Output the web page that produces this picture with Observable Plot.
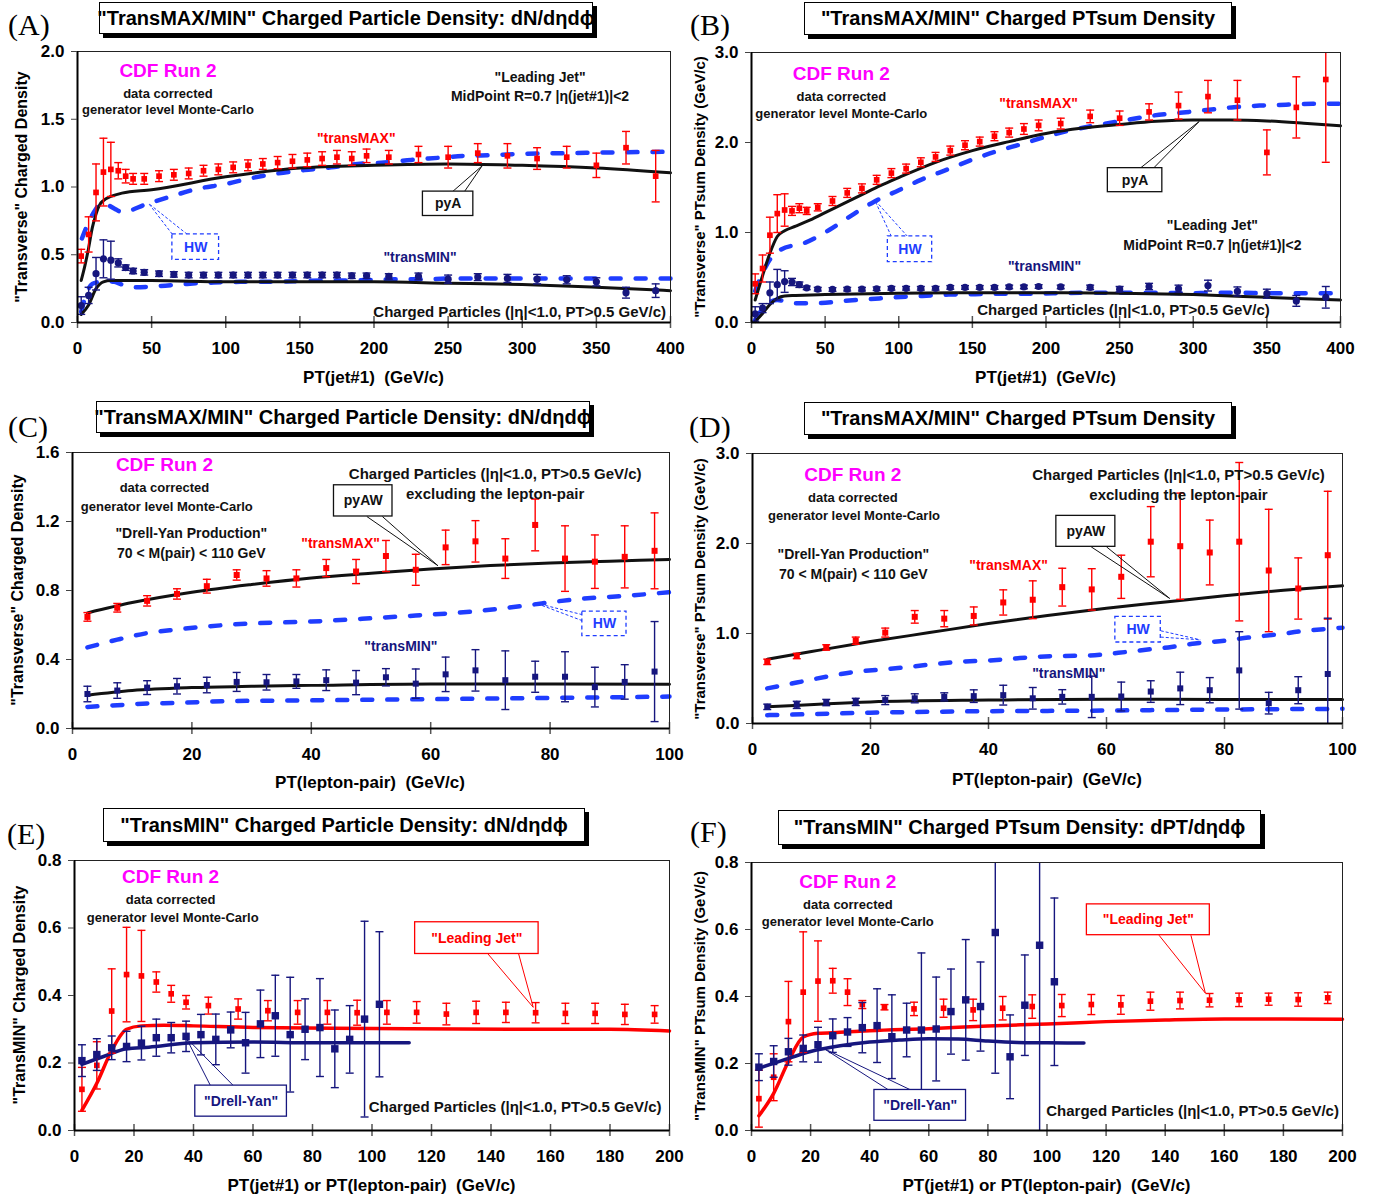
<!DOCTYPE html>
<html><head><meta charset="utf-8">
<script src="https://cdn.jsdelivr.net/npm/d3@7"></script>
<script src="https://cdn.jsdelivr.net/npm/@observablehq/plot@0.6"></script>
<style>
html,body{margin:0;padding:0;background:#fff;}
#root{position:relative;width:1385px;height:1197px;background:#fff;overflow:hidden;font-family:"Liberation Sans",Arial,sans-serif;}
#root svg{position:absolute;}
</style></head>
<body><div id="root"></div>
<script>
// ---------- DATA ----------
const jetBins = [2.5,7.5,12.5,17.5,22.5,27.5,32.5,37.5,45,55,65,75,85,95,105,115,125,135,145,155,165,175,185,195,210,230,250,270,290,310,330,350,370,390];
const ljBins = [2.5,7.5,12.5,17.5,22.5,27.5,32.5,37.5,45,55,65,75,85,95,105,115,125,135,145,155,165,175,185,195];
const dyBins = [2.5,7.5,12.5,17.5,22.5,27.5,32.5,37.5,42.5,47.5,52.5,57.5,62.5,67.5,72.5,77.5,82.5,87.5,92.5,97.5];
const dyBinsExt = [2.5,7.5,12.5,17.5,22.5,27.5,32.5,37.5,42.5,47.5,52.5,57.5,62.5,67.5,72.5,77.5,82.5,87.5,92.5,97.5,102.5];

// Panel A
const aMax = [0.49,0.65,0.96,1.11,1.13,1.12,1.08,1.06,1.06,1.08,1.09,1.10,1.12,1.13,1.145,1.16,1.17,1.18,1.19,1.20,1.21,1.22,1.21,1.23,1.22,1.24,1.22,1.25,1.23,1.21,1.22,1.16,1.29,1.08];
const aMaxErr = [0.05,0.13,0.21,0.25,0.2,0.06,0.05,0.04,0.04,0.04,0.04,0.04,0.04,0.04,0.04,0.04,0.04,0.045,0.05,0.05,0.05,0.05,0.05,0.05,0.05,0.06,0.08,0.07,0.09,0.08,0.08,0.09,0.12,0.19];
const aMin = [0.125,0.20,0.36,0.47,0.46,0.44,0.405,0.38,0.37,0.36,0.355,0.35,0.35,0.35,0.35,0.35,0.35,0.35,0.35,0.35,0.35,0.35,0.345,0.345,0.34,0.34,0.32,0.335,0.325,0.32,0.315,0.30,0.22,0.235];
const aMinErr = [0.065,0.06,0.12,0.14,0.14,0.03,0.02,0.02,0.02,0.02,0.02,0.02,0.02,0.02,0.02,0.02,0.02,0.02,0.02,0.02,0.02,0.02,0.02,0.02,0.02,0.025,0.03,0.025,0.03,0.035,0.03,0.03,0.04,0.05];
const aPyMaxX = [2.5,5,7.5,10,12.5,15,17.5,22.5,30,50,100,150,200,250,300,350,400];
const aPyMaxY = [0.31,0.42,0.55,0.70,0.80,0.87,0.90,0.93,0.955,0.98,1.075,1.14,1.16,1.17,1.16,1.14,1.105];
const aPyMinX = [2.5,7.5,12.5,17.5,22.5,30,50,100,150,200,250,300,350,400];
const aPyMinY = [0.06,0.13,0.25,0.30,0.31,0.31,0.31,0.30,0.30,0.30,0.29,0.28,0.26,0.235];
const aHwMaxX = [3,7.5,12,16,20,25,30,47,63,81,99,117,135,153,171,189,207,225,243,261,280,300,330,360,400];
const aHwMaxY = [0.62,0.74,0.83,0.88,0.87,0.84,0.815,0.876,0.93,0.987,1.02,1.065,1.10,1.125,1.145,1.17,1.18,1.20,1.215,1.23,1.235,1.245,1.25,1.255,1.26];
const aHwMinX = [2.5,5,7.5,10,15,20,25,30,38,56,74,92,110,128,146,164,182,200,218,236,254,272,290,310,330,360,400];
const aHwMinY = [0.08,0.18,0.25,0.285,0.30,0.305,0.30,0.28,0.26,0.27,0.285,0.295,0.30,0.30,0.305,0.31,0.31,0.315,0.32,0.32,0.325,0.325,0.325,0.325,0.325,0.325,0.325];

// Panel B
const bMax = [0.43,0.60,0.97,1.21,1.25,1.24,1.27,1.24,1.28,1.35,1.44,1.49,1.585,1.66,1.71,1.78,1.84,1.91,1.97,2.01,2.07,2.11,2.15,2.19,2.21,2.29,2.27,2.34,2.41,2.51,2.47,1.89,2.39,2.70];
const bMaxErr = [0.11,0.15,0.2,0.21,0.18,0.05,0.05,0.04,0.04,0.05,0.05,0.05,0.05,0.05,0.05,0.05,0.05,0.05,0.05,0.05,0.05,0.05,0.06,0.06,0.06,0.07,0.08,0.09,0.15,0.18,0.22,0.25,0.34,0.92];
const bMin = [0.095,0.16,0.33,0.42,0.455,0.45,0.42,0.385,0.37,0.367,0.37,0.37,0.375,0.38,0.38,0.38,0.38,0.39,0.39,0.39,0.39,0.395,0.395,0.40,0.395,0.39,0.37,0.40,0.375,0.41,0.345,0.32,0.24,0.28];
const bMinErr = [0.08,0.05,0.12,0.17,0.12,0.04,0.03,0.02,0.02,0.02,0.02,0.02,0.02,0.02,0.02,0.02,0.02,0.02,0.02,0.02,0.02,0.02,0.02,0.02,0.02,0.025,0.03,0.035,0.04,0.06,0.05,0.05,0.06,0.12];
const bPyMaxX = [2.5,7.5,12.5,17.5,22.5,30,40,50,62.5,75,87.5,100,125,150,175,200,225,250,275,300,325,350,375,400];
const bPyMaxY = [0.25,0.52,0.77,0.955,1.02,1.07,1.14,1.22,1.32,1.42,1.52,1.61,1.78,1.91,2.01,2.10,2.16,2.20,2.235,2.25,2.25,2.24,2.215,2.185];
const bPyMinX = [2.5,7.5,12.5,17.5,22.5,30,50,100,150,200,250,300,350,400];
const bPyMinY = [0.01,0.1,0.2,0.27,0.295,0.30,0.31,0.325,0.33,0.33,0.325,0.31,0.28,0.25];
const bHwMaxX = [2.5,7.5,12.5,20,37,53,67,83,100,115,133,150,166,184,201,218,235,253,273,291,309,326,345,363,381,400];
const bHwMaxY = [0.35,0.55,0.70,0.81,0.89,1.03,1.18,1.34,1.47,1.585,1.70,1.81,1.90,1.985,2.07,2.14,2.195,2.245,2.30,2.33,2.36,2.39,2.41,2.42,2.43,2.43];
const bHwMinX = [2.5,7.5,11,17.5,28,44.5,62.5,80.6,98,116,134,152,169,187,205,223,241,260,278,296,314,332,350,368,386,400];
const bHwMinY = [0.03,0.15,0.21,0.25,0.215,0.215,0.24,0.26,0.28,0.295,0.31,0.315,0.32,0.32,0.325,0.33,0.33,0.33,0.33,0.325,0.33,0.33,0.325,0.325,0.325,0.325];

// Panel C
const cMax = [0.647,0.70,0.74,0.78,0.825,0.89,0.87,0.87,0.93,0.91,1.00,0.92,1.05,1.085,0.985,1.18,0.985,0.967,0.995,1.03];
const cMaxErr = [0.025,0.025,0.03,0.03,0.04,0.03,0.045,0.05,0.05,0.07,0.09,0.09,0.1,0.12,0.115,0.15,0.19,0.155,0.18,0.22];
const cMin = [0.20,0.22,0.237,0.245,0.252,0.27,0.268,0.273,0.28,0.266,0.297,0.26,0.314,0.337,0.28,0.30,0.30,0.24,0.27,0.33];
const cMinErr = [0.045,0.045,0.04,0.045,0.045,0.055,0.045,0.04,0.06,0.07,0.05,0.085,0.1,0.12,0.17,0.09,0.145,0.115,0.1,0.29];
const cPyMaxX = [2.5,10,20,30,40,50,60,70,80,90,100];
const cPyMaxY = [0.67,0.73,0.79,0.835,0.873,0.90,0.925,0.945,0.96,0.97,0.98];
const cPyMinX = [2.5,10,20,30,40,60,80,100];
const cPyMinY = [0.193,0.22,0.237,0.245,0.25,0.258,0.258,0.256];
const cHwMaxX = [2.5,7.5,12.5,17.5,23,30,40,48.5,57.5,67,75,84,93,100];
const cHwMaxY = [0.47,0.515,0.553,0.574,0.593,0.609,0.62,0.636,0.655,0.678,0.709,0.748,0.77,0.79];
const cHwMinX = [2.5,7.5,12.5,17.5,25,40,60,80,100];
const cHwMinY = [0.125,0.135,0.145,0.148,0.158,0.163,0.17,0.177,0.185];

// Panel D
const dMax = [0.685,0.75,0.845,0.92,1.01,1.185,1.165,1.195,1.345,1.375,1.515,1.49,1.63,2.02,1.97,1.90,2.02,1.70,1.50,1.87];
const dMaxErr = [0.03,0.03,0.03,0.04,0.05,0.07,0.09,0.1,0.14,0.21,0.21,0.23,0.24,0.39,0.59,0.36,0.88,0.68,0.34,0.71];
const dMin = [0.185,0.207,0.233,0.24,0.26,0.28,0.296,0.304,0.315,0.28,0.296,0.296,0.30,0.355,0.39,0.37,0.59,0.226,0.37,0.55];
const dMinErr = [0.03,0.04,0.035,0.04,0.05,0.05,0.045,0.07,0.11,0.12,0.08,0.23,0.16,0.12,0.18,0.14,0.43,0.12,0.15,0.62];
const dPyMaxX = [2.5,10,20,30,40,50,60,70,80,90,100];
const dPyMaxY = [0.715,0.80,0.91,1.01,1.11,1.20,1.28,1.35,1.42,1.48,1.53];
const dPyMinX = [2.5,20,40,60,80,100];
const dPyMinY = [0.185,0.24,0.26,0.27,0.267,0.267];
const dHwMaxX = [2.5,7.5,12.5,17.5,22,26,30,35,40,44,48,52,57,62,66,71,75,80,84,89,93,98,100];
const dHwMaxY = [0.39,0.455,0.52,0.575,0.60,0.625,0.655,0.685,0.70,0.72,0.74,0.75,0.755,0.785,0.815,0.85,0.89,0.92,0.955,0.99,1.025,1.055,1.065];
const dHwMinX = [2.5,10,20,30,40,50,60,70,80,90,100];
const dHwMinY = [0.093,0.104,0.12,0.13,0.137,0.14,0.144,0.15,0.155,0.16,0.163];

// Panel E
const eLJ = [0.122,0.193,0.354,0.462,0.458,0.44,0.405,0.38,0.37,0.36,0.355,0.35,0.35,0.349,0.35,0.35,0.345,0.35,0.35,0.349,0.347,0.347,0.344,0.344];
const eLJErr = [0.065,0.07,0.125,0.14,0.135,0.03,0.025,0.02,0.025,0.03,0.03,0.035,0.035,0.037,0.035,0.032,0.032,0.033,0.03,0.03,0.03,0.03,0.03,0.026];
const eDY = [0.207,0.225,0.245,0.249,0.259,0.275,0.275,0.279,0.284,0.27,0.298,0.26,0.316,0.34,0.284,0.30,0.305,0.242,0.27,0.33,0.374];
const eDYErr = [0.047,0.047,0.035,0.045,0.05,0.055,0.045,0.045,0.06,0.075,0.053,0.09,0.1,0.12,0.17,0.09,0.145,0.115,0.1,0.29,0.215];
const eLJLineX = [2.5,7.5,12.5,17.5,22.5,30,40,60,100,150,180,200];
const eLJLineY = [0.06,0.14,0.237,0.30,0.31,0.312,0.31,0.305,0.302,0.30,0.30,0.295];
const eDYLineX = [2.5,10,17.5,25,40,60,80,100,112.5];
const eDYLineY = [0.196,0.22,0.242,0.247,0.26,0.262,0.26,0.26,0.26];

// Panel F
const fLJ = [0.095,0.159,0.325,0.413,0.446,0.447,0.413,0.376,0.368,0.363,0.365,0.36,0.365,0.37,0.373,0.376,0.375,0.386,0.388,0.389,0.39,0.392,0.391,0.396];
const fLJErr = [0.085,0.07,0.12,0.18,0.12,0.037,0.04,0.012,0.008,0.02,0.027,0.032,0.035,0.035,0.033,0.03,0.028,0.027,0.025,0.02,0.02,0.018,0.02,0.017];
const fDY = [0.189,0.206,0.235,0.245,0.256,0.283,0.294,0.307,0.313,0.28,0.30,0.30,0.303,0.355,0.39,0.37,0.591,0.22,0.374,0.553,0.444];
const fDYErr = [0.04,0.047,0.04,0.04,0.052,0.05,0.043,0.075,0.11,0.125,0.08,0.23,0.155,0.127,0.18,0.133,0.42,0.125,0.15,0.6,0.25];
const fLJLineX = [2.5,7.5,12.5,17.5,22.5,30,40,60,80,100,120,140,160,180,200];
const fLJLineY = [0.044,0.111,0.206,0.279,0.29,0.293,0.298,0.304,0.312,0.318,0.325,0.33,0.333,0.333,0.332];
const fDYLineX = [2.5,10,20,30,40,50,60,70,80,90,100,112.5];
const fDYLineY = [0.186,0.208,0.236,0.253,0.264,0.27,0.274,0.273,0.267,0.263,0.262,0.261];

// Tick values
const xTicksJet = [0,50,100,150,200,250,300,350,400];
const xTicksDY = [0,20,40,60,80,100];
const xTicksE = [0,20,40,60,80,100,120,140,160,180,200];
const yTicksA = [0,0.5,1.0,1.5,2.0];
const yTicksB = [0,1,2,3];
const yTicksC = [0,0.4,0.8,1.2,1.6];
const yTicksE = [0,0.2,0.4,0.6,0.8];

// Text
const titles = ['"TransMAX/MIN" Charged Particle Density: dN/dηdϕ','"TransMAX/MIN" Charged PTsum Density','"TransMAX/MIN" Charged Particle Density: dN/dηdϕ','"TransMAX/MIN" Charged PTsum Density','"TransMIN" Charged Particle Density: dN/dηdϕ','"TransMIN" Charged PTsum Density: dPT/dηdϕ'];
const letters = ["(A)","(B)","(C)","(D)","(E)","(F)"];
const xTitles = ["PT(jet#1)  (GeV/c)","PT(jet#1)  (GeV/c)","PT(lepton-pair)  (GeV/c)","PT(lepton-pair)  (GeV/c)","PT(jet#1) or PT(lepton-pair)  (GeV/c)","PT(jet#1) or PT(lepton-pair)  (GeV/c)"];
const yTitles = ['"Transverse" Charged Density','"Transverse" PTsum Density (GeV/c)','"Transverse" Charged Density','"Transverse" PTsum Density (GeV/c)','"TransMIN" Charged Density','"TransMIN" PTsum Density (GeV/c)'];
const charged = "Charged Particles (|η|<1.0, PT>0.5 GeV/c)";

const RED = "#ff0000", NAVY = "#16167e", BLUE = "#1f3dff", MAG = "#ff00ff", INK = "#111";

// Annotations (data space)
const annA = [
  {t:"CDF Run 2",x:61,y:1.86,c:MAG,s:19},{t:"data corrected",x:61,y:1.69,s:13},{t:"generator level Monte-Carlo",x:61,y:1.57,s:13},
  {t:'"Leading Jet"',x:312,y:1.81,s:14},{t:"MidPoint R=0.7 |η(jet#1)|<2",x:312,y:1.665,s:14},
  {t:'"transMAX"',x:188,y:1.36,c:RED,s:14},{t:'"transMIN"',x:231,y:0.48,c:NAVY,s:14},{t:charged,x:397,y:0.074,s:15,a:"end"}];
const boxA = [{t:"pyA",x1:233,x2:267,y1:0.786,y2:0.966,c:INK},{t:"HW",x1:64,x2:95.5,y1:0.462,y2:0.651,c:BLUE,d:true}];
const leadA = [{x1:253,y1:0.966,x2:273,y2:1.157,c:INK},{x1:261,y1:0.966,x2:273,y2:1.157,c:INK},{x1:64,y1:0.651,x2:48,y2:0.878,c:BLUE,d:true},{x1:74,y1:0.651,x2:48,y2:0.878,c:BLUE,d:true}];

const annB = [
  {t:"CDF Run 2",x:61,y:2.76,c:MAG,s:19},{t:"data corrected",x:61,y:2.51,s:13},{t:"generator level Monte-Carlo",x:61,y:2.32,s:13},
  {t:'"transMAX"',x:195,y:2.43,c:RED,s:14},{t:'"Leading Jet"',x:313,y:1.078,s:14},{t:"MidPoint R=0.7 |η(jet#1)|<2",x:313,y:0.856,s:14},
  {t:'"transMIN"',x:199,y:0.62,c:NAVY,s:14},{t:charged,x:352,y:0.14,s:15,a:"end"}];
const boxB = [{t:"pyA",x1:242,x2:279,y1:1.448,y2:1.715,c:INK},{t:"HW",x1:92.6,x2:122.7,y1:0.67,y2:0.956,c:BLUE,d:true}];
const leadB = [{x1:264,y1:1.715,x2:304,y2:2.233,c:INK},{x1:273,y1:1.715,x2:304,y2:2.233,c:INK},{x1:95,y1:0.956,x2:83.6,y2:1.363,c:BLUE,d:true},{x1:106,y1:0.956,x2:83.6,y2:1.363,c:BLUE,d:true}];

const annC = [
  {t:"CDF Run 2",x:15.4,y:1.526,c:MAG,s:19},{t:"data corrected",x:15.4,y:1.393,s:13},{t:"generator level Monte-Carlo",x:15.8,y:1.287,s:13},
  {t:'"Drell-Yan Production"',x:19.9,y:1.131,s:14},{t:"70 < M(pair) < 110 GeV",x:19.9,y:1.015,s:14},
  {t:'"transMAX"',x:44.9,y:1.073,c:RED,s:14},{t:'"transMIN"',x:55,y:0.478,c:NAVY,s:14},
  {t:charged,x:70.8,y:1.476,s:15},{t:"excluding the lepton-pair",x:70.8,y:1.36,s:15}];
const boxC = [{t:"pyAW",x1:43.8,x2:53.6,y1:1.229,y2:1.41,c:INK},{t:"HW",x1:85.4,x2:92.8,y1:0.536,y2:0.678,c:BLUE,d:true}];
const leadC = [{x1:49.3,y1:1.229,x2:61.2,y2:0.944,c:INK},{x1:51.9,y1:1.229,x2:61.2,y2:0.944,c:INK},{x1:85.4,y1:0.66,x2:77.5,y2:0.728,c:BLUE,d:true},{x1:85.4,y1:0.625,x2:77.5,y2:0.728,c:BLUE,d:true}];

const annD = [
  {t:"CDF Run 2",x:17,y:2.767,c:MAG,s:19},{t:"data corrected",x:17,y:2.51,s:13},{t:"generator level Monte-Carlo",x:17.2,y:2.307,s:13},
  {t:'"Drell-Yan Production"',x:17.1,y:1.88,s:14},{t:"70 < M(pair) < 110 GeV",x:17.1,y:1.66,s:14},
  {t:'"transMAX"',x:43.4,y:1.76,c:RED,s:14},{t:'"transMIN"',x:53.6,y:0.55,c:NAVY,s:14},
  {t:charged,x:72.2,y:2.76,s:15},{t:"excluding the lepton-pair",x:72.2,y:2.54,s:15}];
const boxD = [{t:"pyAW",x1:51.5,x2:61.5,y1:1.963,y2:2.307,c:INK},{t:"HW",x1:61.5,x2:69.2,y1:0.9,y2:1.185,c:BLUE,d:true}];
const leadD = [{x1:57.4,y1:1.963,x2:70.7,y2:1.39,c:INK},{x1:60,y1:1.963,x2:70.7,y2:1.39,c:INK},{x1:69.2,y1:1.03,x2:75.9,y2:0.93,c:BLUE,d:true},{x1:69.2,y1:0.96,x2:75.9,y2:0.93,c:BLUE,d:true}];

const annE = [
  {t:"CDF Run 2",x:32.3,y:0.75,c:MAG,s:19},{t:"data corrected",x:32.3,y:0.683,s:13},{t:"generator level Monte-Carlo",x:33,y:0.63,s:13},
  {t:charged,x:197.3,y:0.069,s:15,a:"end"}];
const boxE = [{t:'"Leading Jet"',x1:114.5,x2:156,y1:0.523,y2:0.617,c:RED},{t:'"Drell-Yan"',x1:40.6,x2:71.4,y1:0.041,y2:0.133,c:NAVY}];
const leadE = [{x1:139,y1:0.523,x2:154.2,y2:0.365,c:RED},{x1:149.3,y1:0.523,x2:154.2,y2:0.365,c:RED},{x1:45.7,y1:0.133,x2:37.5,y2:0.275,c:NAVY},{x1:53.4,y1:0.133,x2:37.5,y2:0.275,c:NAVY}];

const annF = [
  {t:"CDF Run 2",x:32.6,y:0.743,c:MAG,s:19},{t:"data corrected",x:32.6,y:0.675,s:13},{t:"generator level Monte-Carlo",x:32.6,y:0.623,s:13},
  {t:charged,x:198.8,y:0.057,s:15,a:"end"}];
const boxF = [{t:'"Leading Jet"',x1:113.5,x2:155.1,y1:0.583,y2:0.675,c:RED},{t:'"Drell-Yan"',x1:41.6,x2:72.6,y1:0.029,y2:0.121,c:NAVY}];
const leadF = [{x1:137.9,y1:0.583,x2:153.6,y2:0.41,c:RED},{x1:148.7,y1:0.583,x2:153.6,y2:0.41,c:RED},{x1:46.4,y1:0.121,x2:24.4,y2:0.245,c:NAVY},{x1:53.9,y1:0.121,x2:24.4,y2:0.245,c:NAVY}];

// ---------- DRAWING ----------
const root = document.getElementById("root");
const FONT = "'Liberation Sans', Arial, Helvetica, sans-serif";
const zip = (xs, ys) => xs.map((x, i) => ({x, y: ys[i]}));
const cap = {draw(ctx, size) { const r = Math.sqrt(size / Math.PI); ctx.moveTo(-r, 0); ctx.lineTo(r, 0); }};

function series(xs, vs, es, color, symbol, r, sw) {
  const data = xs.map((x, i) => ({x, y: vs[i], lo: vs[i] - es[i], hi: vs[i] + es[i]}));
  return [
    Plot.ruleX(data, {x: "x", y1: "lo", y2: "hi", stroke: color, strokeWidth: sw, clip: true}),
    Plot.dot(data, {x: "x", y: "lo", symbol: cap, r: 4, stroke: color, strokeWidth: sw, clip: true}),
    Plot.dot(data, {x: "x", y: "hi", symbol: cap, r: 4, stroke: color, strokeWidth: sw, clip: true}),
    Plot.dot(data, {x: "x", y: "y", symbol, r, fill: color, stroke: "none"})
  ];
}

function panel(p) {
  const [x0, y0, x1, y1] = p.svg, [l, t, r, b] = p.frame;
  const fh = b - t;
  const marks = [];
  marks.push(Plot.ruleX(p.xTicks, {x: d => d, stroke: "#555", strokeWidth: 1.5, insetTop: fh - 6, insetBottom: -6}));
  for (const s of p.dashed) marks.push(Plot.line(zip(s[0], s[1]), {x: "x", y: "y", stroke: BLUE, strokeWidth: 4.5, strokeDasharray: "10,15", curve: "monotone-x"}));
  for (const s of p.solid) marks.push(Plot.line(zip(s[0], s[1]), {x: "x", y: "y", stroke: s[2], strokeWidth: s[3], curve: "monotone-x"}));
  for (const s of p.series) marks.push(...series(...s));
  marks.push(Plot.frame({stroke: "#222", strokeWidth: 1}));
  marks.push(Plot.ruleX([0], {stroke: "#000", strokeWidth: 2}));
  marks.push(Plot.ruleY([0], {stroke: "#000", strokeWidth: 2}));
  marks.push(Plot.axisX({ticks: p.xTicks, tickSize: 0, tickPadding: 19, label: null, fontSize: 17, fontWeight: "bold", tickFormat: d3.format("d")}));
  marks.push(Plot.axisY({ticks: p.yTicks, tickSize: 6, tickPadding: 7, label: null, fontSize: 17, fontWeight: "bold", tickFormat: d3.format(".1f"), stroke: "#444"}));
  for (const ld of p.lead) marks.push(Plot.link([ld], {x1: "x1", y1: "y1", x2: "x2", y2: "y2", stroke: ld.c, strokeWidth: 1, strokeDasharray: ld.d ? "3,2" : null}));
  for (const bx of p.box) {
    marks.push(Plot.rect([bx], {x1: "x1", x2: "x2", y1: "y1", y2: "y2", fill: "white", stroke: bx.c, strokeWidth: 1.3, strokeDasharray: bx.d ? "4,3" : null}));
    marks.push(Plot.text([bx], {x: d => (d.x1 + d.x2) / 2, y: d => (d.y1 + d.y2) / 2, text: "t", fill: bx.c, fontSize: 14, fontWeight: "bold"}));
  }
  for (const a of p.ann) marks.push(Plot.text([a], {x: "x", y: "y", text: "t", fill: a.c || INK, fontSize: a.s, fontWeight: "bold", textAnchor: a.a || "middle"}));
  const svg = Plot.plot({
    width: x1 - x0, height: y1 - y0,
    marginLeft: l - x0, marginRight: x1 - r, marginTop: t - y0, marginBottom: y1 - b,
    x: {domain: p.xDomain}, y: {domain: p.yDomain},
    style: {fontFamily: FONT, fontSize: "17px", fontWeight: "bold", background: "transparent", overflow: "visible", color: "#000"},
    marks
  });
  svg.style.left = x0 + "px"; svg.style.top = y0 + "px";
  root.appendChild(svg);
}

function div(text, style) {
  const d = document.createElement("div");
  d.textContent = text;
  Object.assign(d.style, {position: "absolute", whiteSpace: "pre", fontFamily: FONT}, style);
  root.appendChild(d);
}

const panels = [
  {svg: [0, 40, 690, 395], frame: [77, 51, 670, 322], xDomain: [0, 400], yDomain: [0, 2], xTicks: xTicksJet, yTicks: yTicksA,
   dashed: [[aHwMaxX, aHwMaxY], [aHwMinX, aHwMinY]], solid: [[aPyMaxX, aPyMaxY, INK, 3], [aPyMinX, aPyMinY, INK, 3]],
   series: [[jetBins, aMax, aMaxErr, RED, "square", 3.2, 1.4], [jetBins, aMin, aMinErr, NAVY, "circle", 3.6, 1.4]],
   ann: annA, box: boxA, lead: leadA},
  {svg: [690, 40, 1385, 395], frame: [751, 52, 1340, 322], xDomain: [0, 400], yDomain: [0, 3], xTicks: xTicksJet, yTicks: yTicksB,
   dashed: [[bHwMaxX, bHwMaxY], [bHwMinX, bHwMinY]], solid: [[bPyMaxX, bPyMaxY, INK, 3], [bPyMinX, bPyMinY, INK, 3]],
   series: [[jetBins, bMax, bMaxErr, RED, "square", 3.2, 1.4], [jetBins, bMin, bMinErr, NAVY, "circle", 3.6, 1.4]],
   ann: annB, box: boxB, lead: leadB},
  {svg: [0, 440, 690, 800], frame: [72, 452, 669, 728], xDomain: [0, 100], yDomain: [0, 1.6], xTicks: xTicksDY, yTicks: yTicksC,
   dashed: [[cHwMaxX, cHwMaxY], [cHwMinX, cHwMinY]], solid: [[cPyMaxX, cPyMaxY, INK, 3], [cPyMinX, cPyMinY, INK, 3]],
   series: [[dyBins, cMax, cMaxErr, RED, "square", 3.4, 1.4], [dyBins, cMin, cMinErr, NAVY, "square", 3.4, 1.4]],
   ann: annC, box: boxC, lead: leadC},
  {svg: [690, 440, 1385, 800], frame: [752, 453, 1342, 723], xDomain: [0, 100], yDomain: [0, 3], xTicks: xTicksDY, yTicks: yTicksB,
   dashed: [[dHwMaxX, dHwMaxY], [dHwMinX, dHwMinY]], solid: [[dPyMaxX, dPyMaxY, INK, 3], [dPyMinX, dPyMinY, INK, 3]],
   series: [[dyBins, dMax, dMaxErr, RED, "square", 3.4, 1.4], [dyBins, dMin, dMinErr, NAVY, "square", 3.4, 1.4]],
   ann: annD, box: boxD, lead: leadD},
  {svg: [0, 850, 690, 1197], frame: [74, 860, 669, 1130], xDomain: [0, 200], yDomain: [0, 0.8], xTicks: xTicksE, yTicks: yTicksE,
   dashed: [], solid: [[eLJLineX, eLJLineY, RED, 3.5], [eDYLineX, eDYLineY, NAVY, 3.5]],
   series: [[ljBins, eLJ, eLJErr, RED, "square", 3.2, 1.4], [dyBinsExt, eDY, eDYErr, NAVY, "square", 4.2, 1.4]],
   ann: annE, box: boxE, lead: leadE},
  {svg: [690, 850, 1385, 1197], frame: [751, 862, 1342, 1130], xDomain: [0, 200], yDomain: [0, 0.8], xTicks: xTicksE, yTicks: yTicksE,
   dashed: [], solid: [[fLJLineX, fLJLineY, RED, 3.5], [fDYLineX, fDYLineY, NAVY, 3.5]],
   series: [[ljBins, fLJ, fLJErr, RED, "square", 3.2, 1.4], [dyBinsExt, fDY, fDYErr, NAVY, "square", 4.2, 1.4]],
   ann: annF, box: boxF, lead: leadF}
];
panels.forEach(panel);

// Titles, letters, axis titles
const titleBoxes = [[99, 2, 494, 32], [804, 2, 428, 33], [96, 401, 494, 32], [804, 402, 428, 33], [103, 808, 482, 34], [778, 810, 483, 35]];
const letterPos = [[8, 25], [690, 25], [8, 427], [689, 427], [7, 834], [690, 832]];
const xTitlePos = [[373.5, 378], [1045.5, 378], [370, 783], [1047, 780], [371.5, 1186], [1046.5, 1186]];
const yTitlePos = [[22, 187], [699, 187], [18, 590], [699, 589], [20, 995], [699, 996]];
const yTitleSize = [16, 15, 16, 15, 16, 15];

titles.forEach((t, i) => {
  const [l, tp, w, h] = titleBoxes[i];
  div(t, {left: l + "px", top: tp + "px", width: w + "px", height: h + "px", boxSizing: "border-box", border: "1.5px solid #000",
    boxShadow: "4px 4px 0 #000", background: "#fff", display: "flex", alignItems: "center", justifyContent: "center",
    fontSize: "20px", fontWeight: "bold", color: "#000"});
});
letters.forEach((t, i) => {
  const [l, cy] = letterPos[i];
  div(t, {left: l + "px", top: (cy - 18) + "px", lineHeight: "36px", fontSize: "30px", fontFamily: "'Liberation Serif', 'Times New Roman', serif", color: "#000"});
});
xTitles.forEach((t, i) => {
  const [cx, cy] = xTitlePos[i];
  div(t, {left: cx + "px", top: cy + "px", transform: "translate(-50%,-50%)", fontSize: "17px", fontWeight: "bold", color: "#000"});
});
yTitles.forEach((t, i) => {
  const [cx, cy] = yTitlePos[i];
  div(t, {left: cx + "px", top: cy + "px", transform: "translate(-50%,-50%) rotate(-90deg)", fontSize: yTitleSize[i] + "px", fontWeight: "bold", color: "#000"});
});
</script>
</body></html>
